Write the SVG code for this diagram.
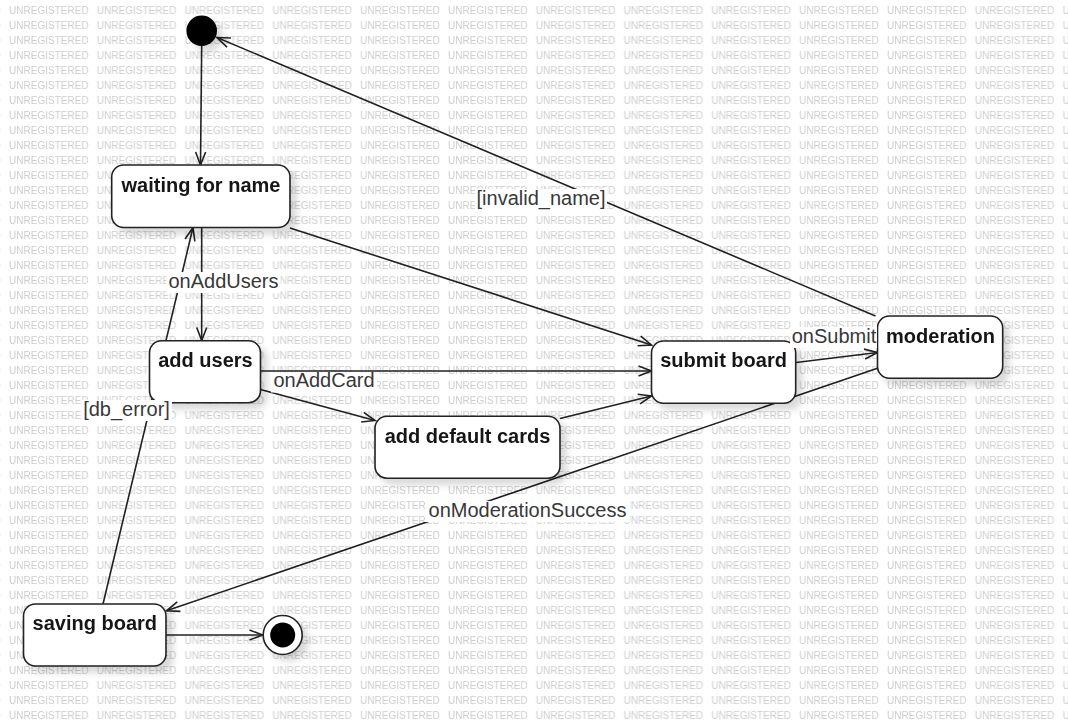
<svg xmlns="http://www.w3.org/2000/svg" width="1068" height="726" viewBox="0 0 1068 726">
  <defs>
    <pattern id="wm" patternUnits="userSpaceOnUse" x="9" y="0" width="87.8" height="15">
      <text x="0" y="13.6" class="wm">UNREGISTERED</text>
    </pattern>
    <filter id="shadow" x="-20%" y="-20%" width="150%" height="160%">
      <feDropShadow dx="6" dy="6" stdDeviation="3.5" flood-color="#000" flood-opacity="0.15"/>
    </filter>
    <marker id="arr" viewBox="-14 -7 16 14" refX="0" refY="0" markerWidth="16" markerHeight="14" orient="auto" markerUnits="userSpaceOnUse">
      <path d="M-13,-5 L0,0 L-13,5" fill="none" stroke="#202020" stroke-width="1.6"/>
    </marker>
    <style>
      .wm { font-family: "Liberation Sans", Arial, sans-serif; font-size: 10px; fill: #cdcdcd; }
      .state { fill: #fff; stroke: #202020; stroke-width: 1.6; }
      .name { font-family: "Liberation Sans", Arial, sans-serif; font-size: 20px; font-weight: bold; fill: #161616; text-anchor: middle; }
      .edge { fill: none; stroke: #202020; stroke-width: 1.6; marker-end: url(#arr); }
      .lbl { font-family: "Liberation Sans", Arial, sans-serif; font-size: 20px; fill: #383838; text-anchor: middle; }
      .lblbg { fill: #fff; }
    </style>
  </defs>

  <!-- page background with evaluation watermark -->
  <rect x="0" y="0" width="1068" height="726" fill="#fff"/>
  <rect x="0" y="0" width="1068" height="726" fill="url(#wm)"/>

  <!-- transitions -->
  <g id="connectors">
    <line class="edge" x1="201.7" y1="46" x2="200.5" y2="165"/>
    <line class="edge" x1="201.7" y1="227.5" x2="201.7" y2="340.5"/>
    <line class="edge" x1="103" y1="604" x2="193" y2="227.5"/>
    <line class="edge" x1="290" y1="228" x2="651.5" y2="345"/>
    <line class="edge" x1="260.5" y1="371" x2="651.5" y2="371"/>
    <line class="edge" x1="260.5" y1="389.5" x2="375" y2="420.5"/>
    <line class="edge" x1="560" y1="418.5" x2="651.5" y2="396"/>
    <line class="edge" x1="796" y1="362.5" x2="877.5" y2="352.5"/>
    <line class="edge" x1="875.5" y1="316" x2="217" y2="37.5"/>
    <line class="edge" x1="877.5" y1="368.3" x2="166.5" y2="610.8"/>
    <line class="edge" x1="166" y1="635" x2="262.5" y2="635"/>
  </g>

  <!-- pseudo states -->
  <g id="initial" filter="url(#shadow)">
    <circle cx="201.7" cy="30.8" r="15.3" fill="#000"/>
  </g>
  <g id="final" filter="url(#shadow)">
    <circle cx="282.7" cy="635" r="19.5" fill="#fff" stroke="#202020" stroke-width="1.6"/>
    <circle cx="282.7" cy="635" r="12.5" fill="#000"/>
  </g>

  <!-- states -->
  <g id="waiting-for-name" filter="url(#shadow)">
    <rect class="state" x="111.7" y="165" width="178.3" height="62.5" rx="12"/>
    <text class="name" x="201" y="192">waiting for name</text>
  </g>
  <g id="add-users" filter="url(#shadow)">
    <rect class="state" x="149.5" y="340.7" width="111" height="62" rx="12"/>
    <text class="name" x="205.5" y="366.7">add users</text>
  </g>
  <g id="add-default-cards" filter="url(#shadow)">
    <rect class="state" x="375" y="416.2" width="185" height="62" rx="12"/>
    <text class="name" x="467.5" y="442.7">add default cards</text>
  </g>
  <g id="submit-board" filter="url(#shadow)">
    <rect class="state" x="651.5" y="341" width="144.2" height="62.3" rx="12"/>
    <text class="name" x="723.6" y="366.7">submit board</text>
  </g>
  <g id="moderation" filter="url(#shadow)">
    <rect class="state" x="877.5" y="316" width="125.2" height="62.3" rx="12"/>
    <text class="name" x="940.5" y="342.7">moderation</text>
  </g>
  <g id="saving-board" filter="url(#shadow)">
    <rect class="state" x="23.5" y="604" width="142.5" height="62" rx="12"/>
    <text class="name" x="94.8" y="630">saving board</text>
  </g>

  <!-- transition labels -->
  <g id="labels">
    <rect class="lblbg" x="166.5" y="272" width="114" height="21"/>
    <text class="lbl" x="223.5" y="288">onAddUsers</text>

    <rect class="lblbg" x="81" y="400" width="91" height="21"/>
    <text class="lbl" x="126.5" y="416">[db_error]</text>

    <rect class="lblbg" x="271" y="372.5" width="106" height="20"/>
    <text class="lbl" x="324" y="387">onAddCard</text>

    <rect class="lblbg" x="790" y="327" width="87" height="21"/>
    <text class="lbl" x="834" y="343">onSubmit</text>

    <rect class="lblbg" x="475" y="189" width="132" height="21"/>
    <text class="lbl" x="541" y="205">[invalid_name]</text>

    <rect class="lblbg" x="425" y="501" width="205" height="21"/>
    <text class="lbl" x="527.5" y="517">onModerationSuccess</text>
  </g>
</svg>
